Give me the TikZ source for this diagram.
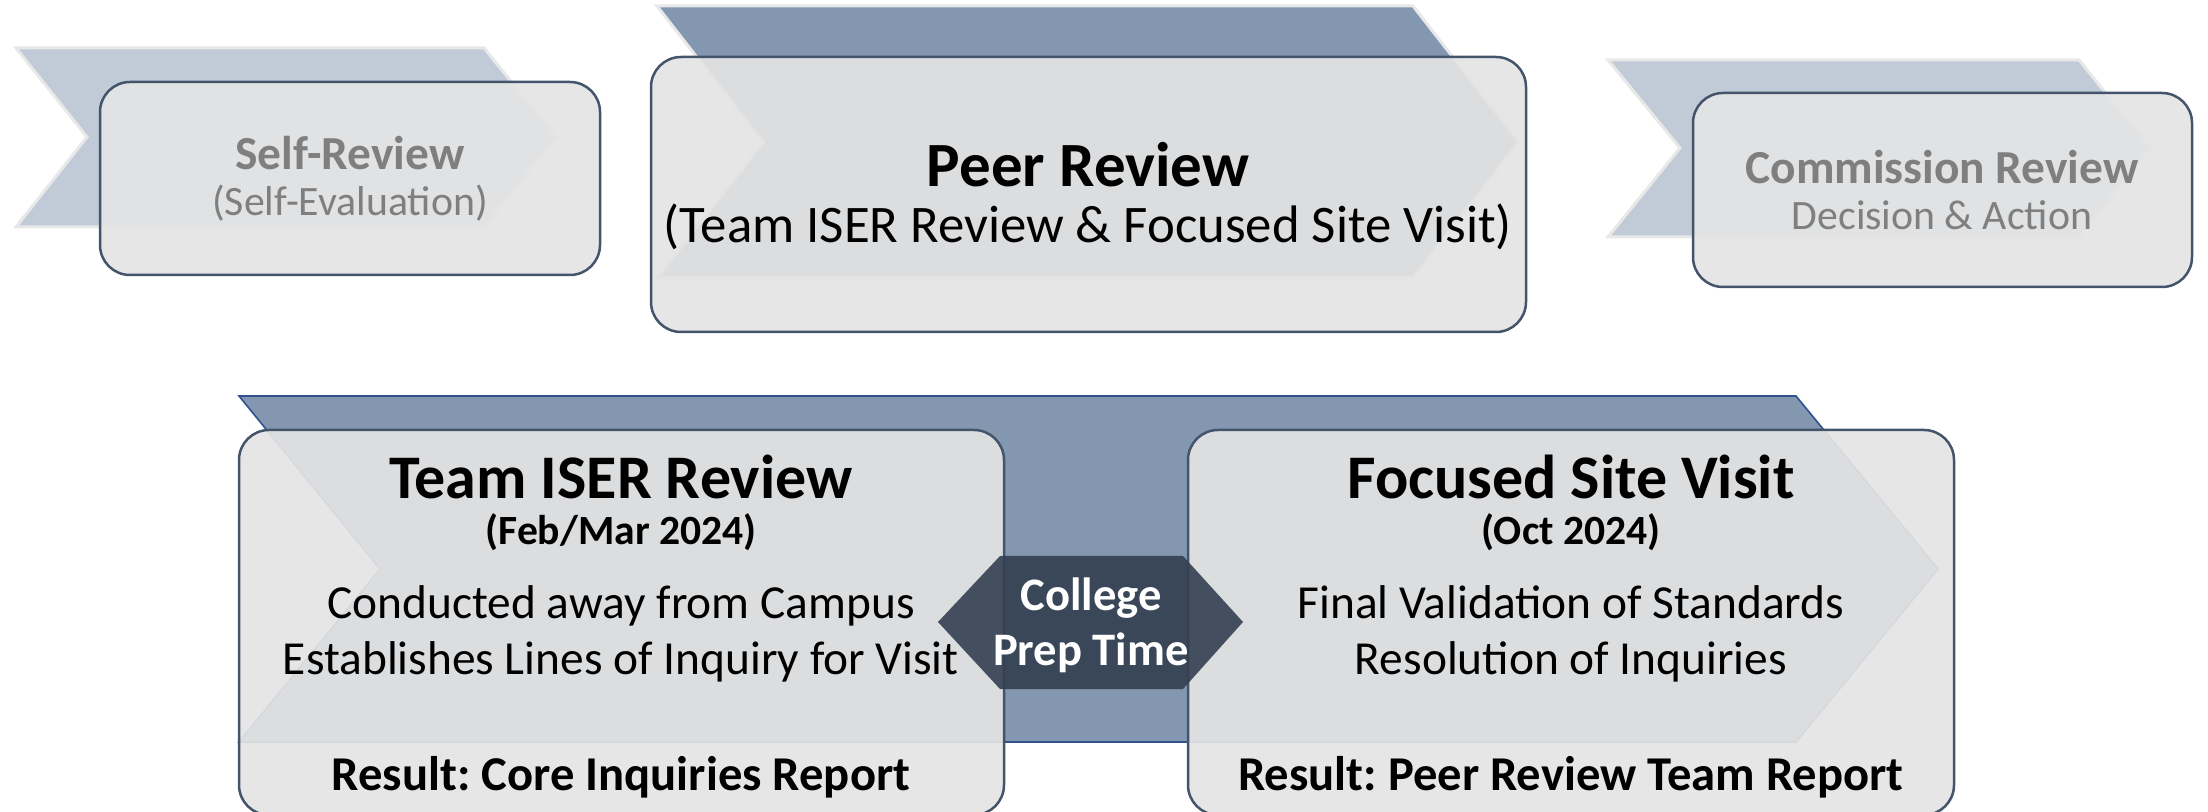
\documentclass[tikz,border=0pt]{standalone}
\usepackage{fontspec}
\setmainfont{Carlito}
\frenchspacing

\definecolor{chevdark}{HTML}{8497B0}
\definecolor{chevlight}{HTML}{C1CBD8}
\definecolor{chevrim}{HTML}{E8E8E8}
\definecolor{chevedge}{HTML}{2F528F}
\definecolor{boxline}{HTML}{44546A}
\definecolor{boxfill}{HTML}{E4E4E4}
\definecolor{hexfill}{HTML}{333F50}
\definecolor{fadedtext}{HTML}{7F7F7F}

\tikzset{
    chevfaded/.style={fill=chevlight, draw=chevrim, line width=1.5pt},
    chevactive/.style={fill=chevdark, draw=chevrim, line width=1.5pt},
    chevmain/.style={fill=chevdark, draw=chevedge, line width=0.8pt},
    stagebox/.style={draw=boxline, fill=boxfill, fill opacity=0.92,
        line width=1.25pt, rounded corners=15pt, inner sep=0pt},
    txt/.style={inner sep=0pt, align=center},
    fadedtitle/.style={txt, text=fadedtext, font=\bfseries\fontsize{23.7}{28}\selectfont},
    fadedsub/.style={txt, text=fadedtext, font=\fontsize{20.9}{25}\selectfont},
    peertitle/.style={txt, font=\bfseries\fontsize{31.5}{38}\selectfont},
    peersub/.style={txt, font=\fontsize{26.4}{32}\selectfont},
    cardtitle/.style={txt, font=\bfseries\fontsize{31}{37}\selectfont},
    carddate/.style={txt, font=\bfseries\fontsize{20.8}{25}\selectfont},
    cardbody/.style={txt, font=\fontsize{23.7}{28}\selectfont},
    cardresult/.style={txt, font=\bfseries\fontsize{24.3}{29}\selectfont},
    preptag/.style={fill=hexfill, fill opacity=0.9},
    preptext/.style={txt, text=white, font=\bfseries\fontsize{23.3}{27.5}\selectfont},
}

\begin{document}
\begin{tikzpicture}[x=0.5pt, y=-0.5pt]
        \path[use as bounding box] (0,0) rectangle (2208,812);

        % top row
        \path[chevfaded] (16,48) -- (484,48) -- (556,137) -- (484,227) -- (16,227) -- (87,137) -- cycle;
        \path[chevactive] (657,6) -- (1413,6) -- (1519,142) -- (1413,278) -- (657,278) -- (763,142) -- cycle;
        \path[chevfaded] (1608,60) -- (2079,60) -- (2150,148) -- (2079,237) -- (1608,237) -- (1680,148) -- cycle;

        \node[stagebox, minimum width=250pt, minimum height=96.5pt] (selfbox) at (350,178.5) {};
        \node[stagebox, minimum width=437.5pt, minimum height=137.5pt] (peerbox) at (1088.5,194.5) {};
        \node[stagebox, minimum width=249.5pt, minimum height=97pt] (commbox) at (1942.5,190) {};

        \node[fadedtitle] (selftitle) at (350,153) {Self-Review};
        \node[fadedsub] (selfsub) at (350,203) {(Self-Evaluation)};
        \node[peertitle] (peertitle) at (1088,165) {Peer Review};
        \node[peersub] (peersub) at (1088,227) {(Team ISER Review \& Focused Site Visit)};
        \node[fadedtitle] (commtitle) at (1942,167) {Commission Review};
        \node[fadedsub] (commsub) at (1942,215) {Decision \& Action};

        % bottom row
        \path[chevmain] (239,396) -- (1796,396) -- (1938,569) -- (1796,742) -- (239,742) -- (380,569) -- cycle;

        \node[stagebox, minimum width=382.5pt, minimum height=192.5pt] (iserbox) at (621.5,622.5) {};
        \node[stagebox, minimum width=383pt, minimum height=192.5pt] (sitebox) at (1571,622.5) {};

        \node[cardtitle] (isertitle) at (621,477) {Team ISER Review};
        \node[carddate] (iserdate) at (621,532) {(Feb/Mar 2024)};
        \node[cardbody] (iserbody) at (621,634) {Conducted away from Campus\\Establishes Lines of Inquiry for Visit};
        \node[cardresult] (iserresult) at (621,777) {Result: Core Inquiries Report};

        \node[cardtitle] (sitetitle) at (1571,477) {Focused Site Visit};
        \node[carddate] (sitedate) at (1571,532) {(Oct 2024)};
        \node[cardbody] (sitebody) at (1571,634) {Final Validation of Standards\\Resolution of Inquiries};
        \node[cardresult] (siteresult) at (1571,777) {Result: Peer Review Team Report};

        \path[preptag] (938,622) -- (1000,556) -- (1183,556) -- (1243,622) -- (1183,689) -- (1000,689) -- cycle;
        \node[preptext] (prep) at (1091,625) {College\\Prep Time};
\end{tikzpicture}
\end{document}
